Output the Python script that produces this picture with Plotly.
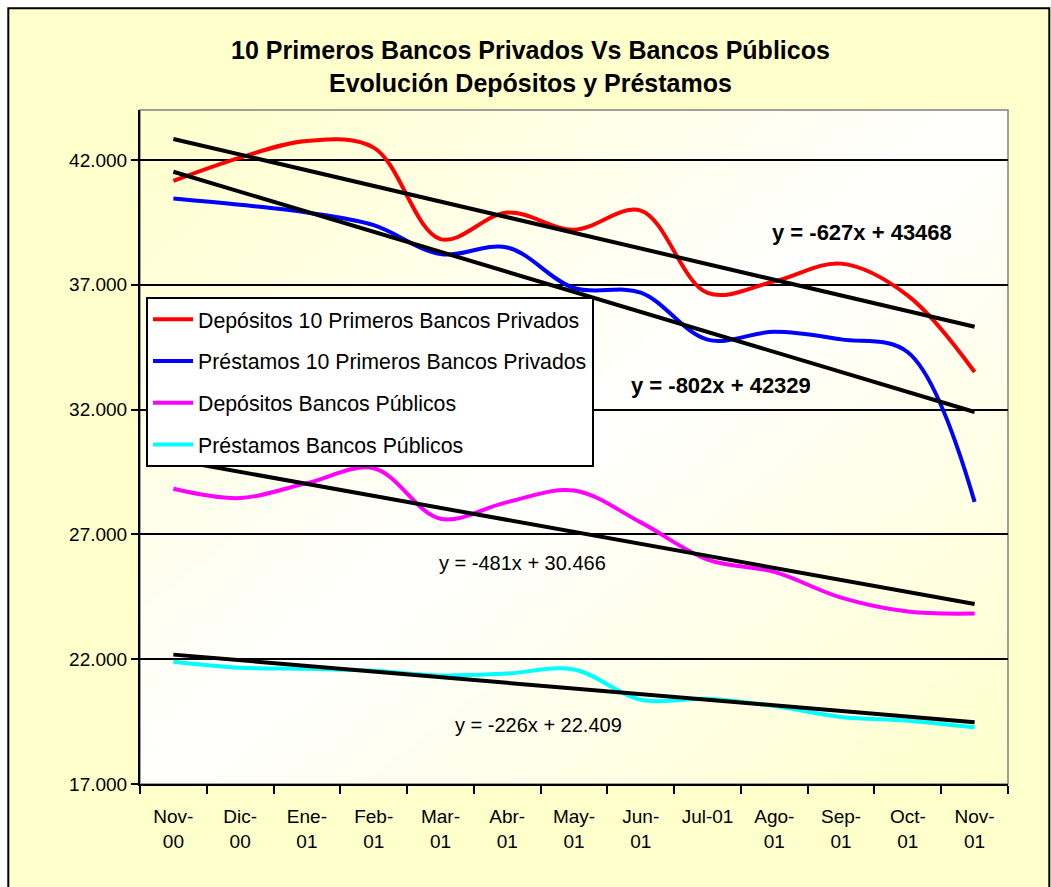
import zlib, struct, base64
import plotly.graph_objects as go

# ---------------- data ----------------
months = ["Nov-00", "Dic-00", "Ene-01", "Feb-01", "Mar-01", "Abr-01", "May-01",
          "Jun-01", "Jul-01", "Ago-01", "Sep-01", "Oct-01", "Nov-01"]

dep_privados = [41160, 42093, 42760, 42493, 38827, 39893, 39204, 39970,
                36672, 37134, 37846, 36567, 33506]
pre_privados = [40454, 40200, 39894, 39388, 38228, 38494, 36870, 36685,
                34800, 35115, 34812, 34297, 28300]
dep_publicos = [28827, 28453, 29053, 29650, 27627, 28293, 28760, 27480,
                25988, 25495, 24468, 23908, 23828]
pre_publicos = [21896, 21656, 21616, 21536, 21349, 21429, 21589, 20376,
                20416, 20123, 19683, 19536, 19269]

series_names = ["Depósitos 10 Primeros Bancos Privados",
                "Préstamos 10 Primeros Bancos Privados",
                "Depósitos Bancos Públicos",
                "Préstamos Bancos Públicos"]
series_colors = ["#FF0000", "#0000FF", "#FF00FF", "#00FFFF"]

# linear trendlines (Excel, x = 1..13)
trend_slopes = [-627, -802, -481, -226]
trend_intercepts = [43468, 42329, 30466, 22409]
trend_labels = ["y = -627x + 43468", "y = -802x + 42329",
                "y = -481x + 30.466", "y = -226x + 22.409"]

y_ticks = [17000, 22000, 27000, 32000, 37000, 42000]

# ---------------- geometry helpers ----------------
W, H = 1051, 887
L, R, T, B = 140, 1051 - 1008, 110, 887 - 784
PW, PH = W - L - R, H - T - B


def px(x):
    return (x - L) / PW


def py(y):
    return (H - B - y) / PH


def gradient_png(w, h):
    rows = []
    for j in range(h):
        v = (j + 0.5) / h
        row = bytearray(b"\x00")
        for i in range(w):
            u = (i + 0.5) / w
            t = abs(u + v - 1.0)
            row += bytes((255, 255, int(round(255 - 51 * t))))
        rows.append(bytes(row))
    raw = b"".join(rows)

    def chunk(tag, data):
        c = struct.pack(">I", len(data)) + tag + data
        return c + struct.pack(">I", zlib.crc32(tag + data) & 0xFFFFFFFF)

    png = (b"\x89PNG\r\n\x1a\n"
           + chunk(b"IHDR", struct.pack(">IIBBBBB", w, h, 8, 2, 0, 0, 0))
           + chunk(b"IDAT", zlib.compress(raw, 9))
           + chunk(b"IEND", b""))
    return "data:image/png;base64," + base64.b64encode(png).decode()


# ---------------- figure ----------------
x_idx = list(range(len(months)))
tick_text = [m if m == "Jul-01" else m.replace("-", "-<br>") for m in months]

fig = go.Figure()
for name, color, vals in zip(series_names, series_colors,
                             [dep_privados, pre_privados, dep_publicos, pre_publicos]):
    fig.add_trace(go.Scatter(
        x=x_idx, y=vals, name=name, mode="lines",
        line=dict(color=color, width=4, shape="spline", smoothing=1),
        legendgroup=name, hoverinfo="skip"))

for s, b in zip(trend_slopes, trend_intercepts):
    fig.add_trace(go.Scatter(
        x=x_idx, y=[s * (i + 1) + b for i in x_idx], mode="lines",
        line=dict(color="black", width=4), showlegend=False, hoverinfo="skip"))

FONT = "Arial, Liberation Sans, sans-serif"

annotations = [
    dict(text="<b>10 Primeros Bancos Privados Vs Bancos Públicos<br>Evolución Depósitos y Préstamos</b>",
         xref="paper", yref="paper", x=px(530), y=py(66.5), xanchor="center", yanchor="middle",
         showarrow=False, font=dict(size=25, family=FONT, color="black")),
]
label_pos = [(10.309, 39073, True), (8.209, 32956, True), (5.229, 25841, False), (5.465, 19364, False)]
for txt, (lx, ly, bold) in zip(trend_labels, label_pos):
    annotations.append(dict(
        text=f"<b>{txt}</b>" if bold else txt, x=lx, y=ly, xref="x", yref="y",
        showarrow=False, xanchor="center", yanchor="middle",
        font=dict(size=22 if bold else 20, family=FONT, color="black")))

shapes = [
    # plot-area border (grey)
    dict(type="rect", xref="paper", yref="paper", x0=0, x1=1, y0=0, y1=1,
         line=dict(color="#808080", width=1.5), layer="below"),
    # white page margin around the chart area
    dict(type="rect", xref="paper", yref="paper", x0=px(-30), x1=px(7.3), y0=py(950), y1=py(-30),
         line=dict(width=0), fillcolor="white", layer="above"),
    dict(type="rect", xref="paper", yref="paper", x0=px(-30), x1=px(1080), y0=py(7.3), y1=py(-30),
         line=dict(width=0), fillcolor="white", layer="above"),
    dict(type="rect", xref="paper", yref="paper", x0=px(1050.5), x1=px(1080), y0=py(950), y1=py(-30),
         line=dict(width=0), fillcolor="white", layer="above"),
    # chart-area black frame
    dict(type="rect", xref="paper", yref="paper", x0=px(8.3), x1=px(1049.3), y0=py(905), y1=py(8.3),
         line=dict(color="black", width=2), fillcolor="rgba(0,0,0,0)", layer="above"),
]

fig.update_layout(
    width=W, height=H,
    margin=dict(l=L, r=R, t=T, b=B, pad=0),
    paper_bgcolor="#FFFFCC",
    plot_bgcolor="rgba(0,0,0,0)",
    separators=",.",
    font=dict(family=FONT, size=19, color="black"),
    showlegend=True,
    legend=dict(
        x=px(146), y=py(297), xanchor="left", yanchor="top",
        bgcolor="white", bordercolor="black", borderwidth=2,
        font=dict(size=21.3, family=FONT, color="black"),
        traceorder="grouped", tracegroupgap=11, itemwidth=40),
    xaxis=dict(
        range=[-0.5, 12.5], tickmode="array", tickvals=x_idx, ticktext=tick_text,
        ticks="", showline=True, linecolor="black", linewidth=2, showgrid=False,
        zeroline=False, tickfont=dict(size=19), ticklabelstandoff=14,
        minor=dict(tickvals=[i - 0.5 for i in range(len(months) + 1)], ticks="outside",
                   ticklen=8, tickwidth=2, tickcolor="black", showgrid=False)),
    yaxis=dict(
        range=[17000, 44000], tickmode="array", tickvals=y_ticks, tickformat=",.0f",
        ticks="outside", ticklen=7, tickwidth=2, tickcolor="black",
        showgrid=True, gridcolor="black", gridwidth=1.5,
        showline=True, linecolor="black", linewidth=2, zeroline=False,
        tickfont=dict(size=19)),
    annotations=annotations,
    shapes=shapes,
    images=[dict(source=gradient_png(109, 85), xref="paper", yref="paper",
                 x=0, y=1, sizex=1, sizey=1, sizing="stretch",
                 xanchor="left", yanchor="top", layer="below")],
)

fig.write_html("out.html", config={"displayModeBar": False},
               post_script="document.body.style.margin='0';document.body.style.overflow='hidden';")
